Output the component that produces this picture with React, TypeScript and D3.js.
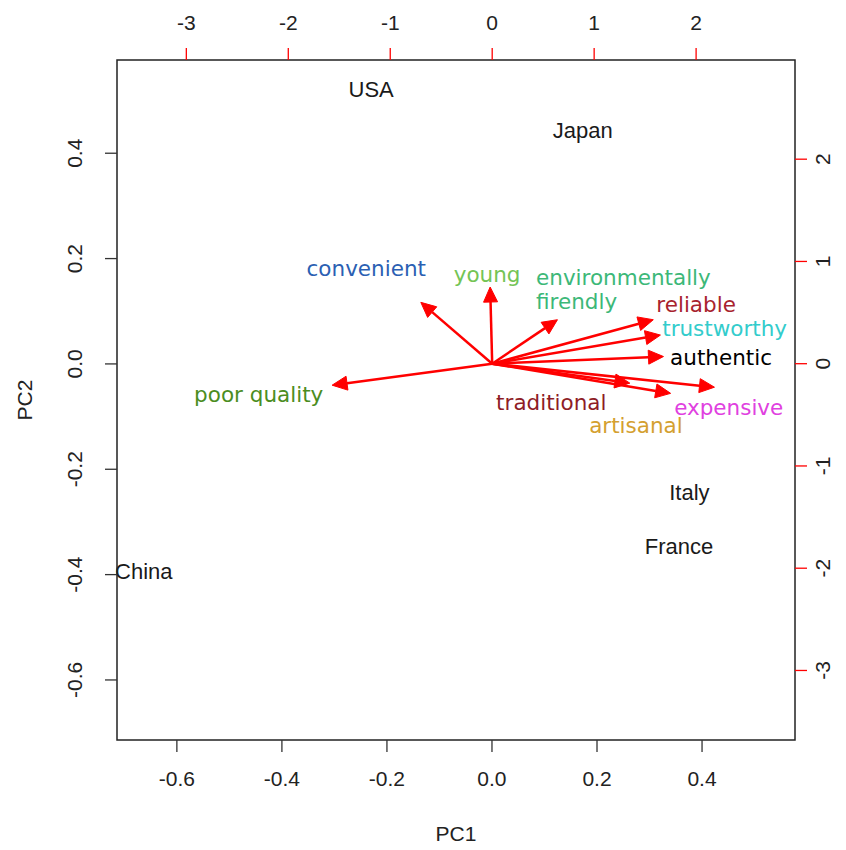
import React from 'react';
import * as d3 from 'd3';

// observations (PC scores, bottom/left axes)
const countries = ['USA', 'Japan', 'Italy', 'France', 'China'];
const countryPC1 = [-0.23, 0.173, 0.376, 0.356, -0.663];
const countryPC2 = [0.521, 0.443, -0.245, -0.346, -0.394];

// variables (loadings, top/right axes)
const variables = ['convenient', 'young', 'environmentally\nfirendly', 'reliable', 'trustworthy', 'authentic', 'poor quality', 'traditional', 'expensive', 'artisanal'];
const loadPC1 = [-0.70, -0.02, 0.64, 1.58, 1.65, 1.68, -1.57, 1.35, 2.18, 1.75];
const loadPC2 = [0.60, 0.75, 0.43, 0.43, 0.28, 0.07, -0.21, -0.19, -0.23, -0.29];
const labelPC1 = [-1.235, -0.05, 0.43, 2.0, 2.28, 2.245, -2.29, 0.58, 2.32, 1.41];
const labelPC2 = [0.94, 0.88, 0.85, 0.58, 0.35, 0.07, -0.30, -0.37, -0.42, -0.60];
const varColors = ['#2b5fb3', '#74c455', '#3cb878', '#a8232e', '#33cccc', '#000000', '#4b8d1e', '#8e1c26', '#e040e0', '#d4a030'];

const xTicks = [-0.6, -0.4, -0.2, 0.0, 0.2, 0.4];
const yTicks = [-0.6, -0.4, -0.2, 0.0, 0.2, 0.4];
const x2Ticks = [-3, -2, -1, 0, 1, 2];
const y2Ticks = [-3, -2, -1, 0, 1, 2];

const W = 846;
const H = 850;
const left = 117, right = 795, top = 60, bottom = 740;

export default function App() {
  const x = d3.scaleLinear().domain([-0.714, 0.577]).range([left, right]);
  const y = d3.scaleLinear().domain([-0.714, 0.577]).range([bottom, top]);
  const x2 = d3.scaleLinear().domain([-3.68, 2.97]).range([left, right]);
  const y2 = d3.scaleLinear().domain([-3.68, 2.97]).range([bottom, top]);

  const axisFont = '"Liberation Sans", Arial, sans-serif';
  const labFont = '"DejaVu Sans", Verdana, sans-serif';
  const fmt = (v: number) => v.toFixed(1).replace('−', '-');

  const arrows = variables.map((v, i) => {
    const x0 = x2(0), y0 = y2(0);
    const tx = x2(loadPC1[i]), ty = y2(loadPC2[i]);
    const dx = tx - x0, dy = ty - y0;
    const len = Math.sqrt(dx * dx + dy * dy);
    const ux = dx / len, uy = dy / len;
    const hl = 15, hw = 7;
    const bx = tx - ux * hl, by = ty - uy * hl;
    const pts = [
      [tx, ty],
      [bx - uy * hw, by + ux * hw],
      [bx + uy * hw, by - ux * hw],
    ];
    return { x0, y0, bx, by, pts };
  });

  return (
    <div style={{ position: 'absolute', left: 0, top: 0 }}>
      <svg width={W} height={H} style={{ display: 'block', background: '#fff' }}>
        {/* arrows */}
        {arrows.map((a, i) => (
          <g key={'a' + i}>
            <line x1={a.x0} y1={a.y0} x2={a.bx} y2={a.by} stroke="#ff0000" strokeWidth={2.5} />
            <polygon points={a.pts.map(p => p.join(',')).join(' ')} fill="#ff0000" stroke="#ff0000" strokeWidth={1} strokeLinejoin="round" />
          </g>
        ))}

        {/* variable labels */}
        {variables.map((v, i) => {
          const lines = v.split('\n');
          const multi = lines.length > 1;
          return (
            <text key={'v' + i} x={x2(labelPC1[i])} y={y2(labelPC2[i])} fill={varColors[i]}
              fontFamily={labFont} fontSize={21.5} textAnchor={multi ? 'start' : 'middle'} dominantBaseline="central">
              {lines.map((l, j) => (
                <tspan key={j} x={x2(labelPC1[i])} dy={j === 0 ? 0 : 24}>{l}</tspan>
              ))}
            </text>
          );
        })}

        {/* observation labels */}
        {countries.map((c, i) => (
          <text key={'c' + i} x={x(countryPC1[i])} y={y(countryPC2[i])} fill="#1a1a1a"
            fontFamily={axisFont} fontSize={22} textAnchor="middle" dominantBaseline="central">{c}</text>
        ))}

        {/* box */}
        <rect x={left} y={top} width={right - left} height={bottom - top} fill="none" stroke="#222" strokeWidth={1.5} />

        {/* bottom axis */}
        {xTicks.map(t => (
          <g key={'bx' + t}>
            <line x1={x(t)} x2={x(t)} y1={bottom} y2={bottom + 12} stroke="#333" strokeWidth={1.3} />
            <text x={x(t)} y={778} fontFamily={axisFont} fontSize={21} fill="#222" textAnchor="middle" dominantBaseline="central">{fmt(t)}</text>
          </g>
        ))}
        {/* left axis */}
        {yTicks.map(t => (
          <g key={'ly' + t}>
            <line x1={left - 12} x2={left} y1={y(t)} y2={y(t)} stroke="#333" strokeWidth={1.3} />
            <text transform={`translate(74,${y(t)}) rotate(-90)`} fontFamily={axisFont} fontSize={21} fill="#222" textAnchor="middle" dominantBaseline="central">{fmt(t)}</text>
          </g>
        ))}
        {/* top axis */}
        {x2Ticks.map(t => (
          <g key={'tx' + t}>
            <line x1={x2(t)} x2={x2(t)} y1={top - 12} y2={top} stroke="#ff0000" strokeWidth={1.3} />
            <text x={x2(t)} y={22} fontFamily={axisFont} fontSize={21} fill="#222" textAnchor="middle" dominantBaseline="central">{String(t)}</text>
          </g>
        ))}
        {/* right axis */}
        {y2Ticks.map(t => (
          <g key={'ry' + t}>
            <line x1={right} x2={right + 12} y1={y2(t)} y2={y2(t)} stroke="#ff0000" strokeWidth={1.3} />
            <text transform={`translate(822,${y2(t)}) rotate(-90)`} fontFamily={axisFont} fontSize={21} fill="#222" textAnchor="middle" dominantBaseline="central">{String(t)}</text>
          </g>
        ))}

        {/* axis titles */}
        <text x={(left + right) / 2} y={833} fontFamily={axisFont} fontSize={21} fill="#222" textAnchor="middle" dominantBaseline="central">PC1</text>
        <text transform={`translate(24,${(top + bottom) / 2}) rotate(-90)`} fontFamily={axisFont} fontSize={21} fill="#222" textAnchor="middle" dominantBaseline="central">PC2</text>
      </svg>
    </div>
  );
}
